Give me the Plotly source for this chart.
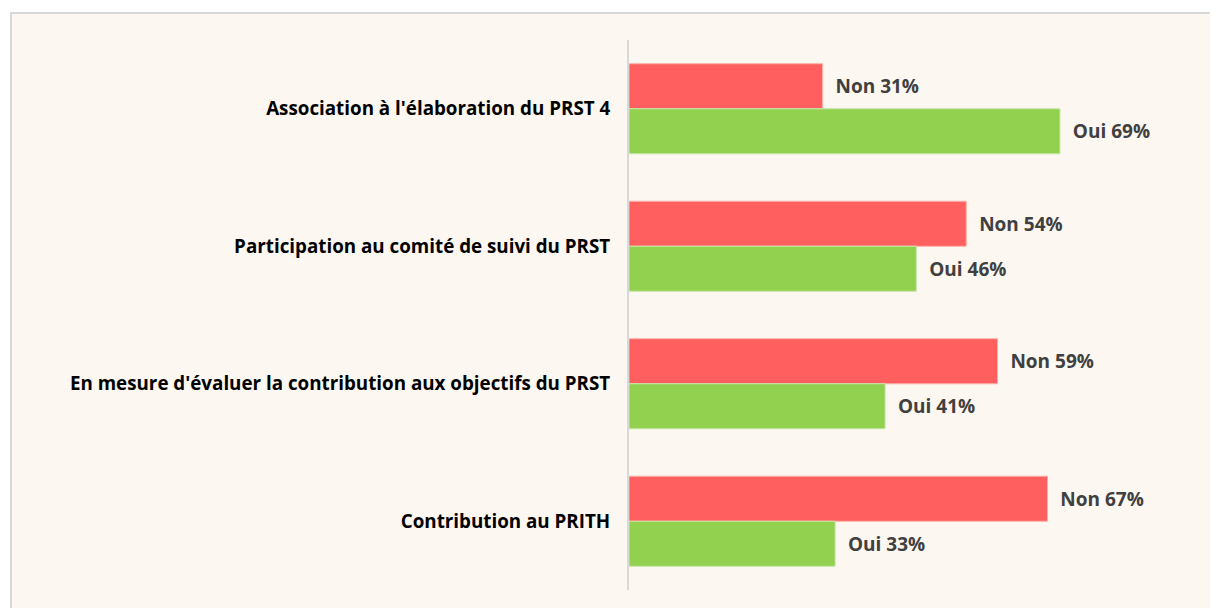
import plotly.graph_objects as go

categories = [
    "Association à l'élaboration du PRST 4",
    "Participation au comité de suivi du PRST",
    "En mesure d'évaluer la contribution aux objectifs du PRST",
    "Contribution au PRITH",
]
non_values = [31, 54, 59, 67]
oui_values = [69, 46, 41, 33]

OFF = 8  # page body margin
W, H = 1218 - OFF, 608 - OFF
L = 629 - OFF
T = 40 - OFF
B = 608 - 590
R = 0
pw, ph = W - L - R, H - T - B
xmax = pw / 6.246

def px2xp(px):
    return (px - OFF - L) / pw

def py2yp(py):
    return 1 - (py - OFF - T) / ph

FONT = "Open Sans"
lab_font = dict(family=FONT, size=19, color="#404040", weight="bold")

fig = go.Figure()
fig.add_trace(go.Bar(
    y=categories, x=non_values, orientation="h", name="Non",
    marker=dict(color="#FF5F5F", line=dict(color="#FFB0A8", width=1)),
    text=[f"  Non {v}%" for v in non_values], textposition="outside",
    textfont=lab_font, cliponaxis=False,
))
fig.add_trace(go.Bar(
    y=categories, x=oui_values, orientation="h", name="Oui",
    marker=dict(color="#92D050", line=dict(color="#C8E8A8", width=1)),
    text=[f"  Oui {v}%" for v in oui_values], textposition="outside",
    textfont=lab_font, cliponaxis=False,
))

fig.add_shape(type="rect", xref="paper", yref="paper",
              x0=px2xp(11), x1=px2xp(1240), y0=py2yp(13), y1=py2yp(640),
              fillcolor="#FCF7F1", line=dict(color="#D9D9D9", width=2), layer="below")

fig.update_layout(
    width=W, height=H,
    margin=dict(l=L, r=R, t=T, b=B),
    paper_bgcolor="white", plot_bgcolor="rgba(0,0,0,0)",
    barmode="group", bargap=0.345, bargroupgap=0,
    showlegend=False,
    xaxis=dict(range=[0, xmax], showgrid=False, zeroline=False, showticklabels=False,
               showline=False, fixedrange=True),
    yaxis=dict(categoryorder="array", categoryarray=categories, autorange="reversed",
               showline=True, linecolor="#D9D9D9", linewidth=2, showgrid=False,
               ticks="", ticklabelstandoff=13,
               tickfont=dict(family=FONT, size=18.8, color="#000000", weight="bold")),
)

fig.write_html("out.html")
